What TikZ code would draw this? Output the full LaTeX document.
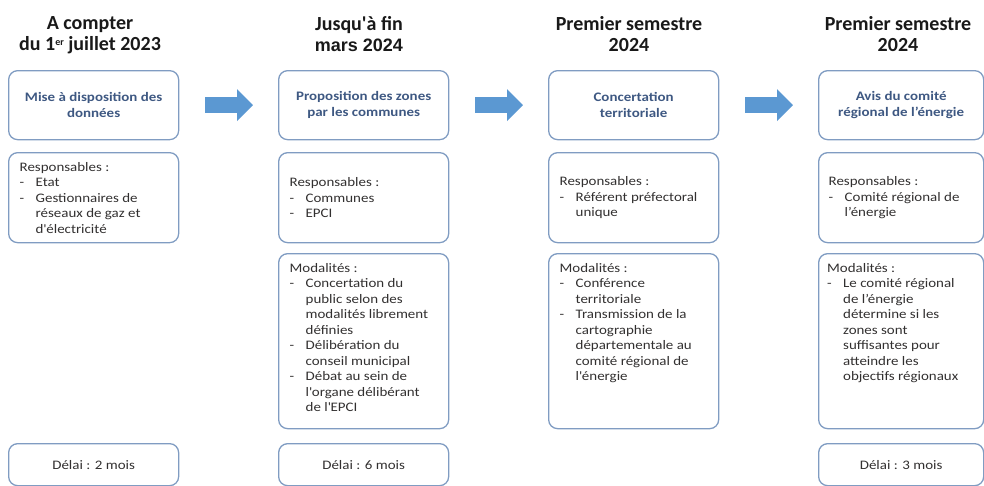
\documentclass[tikz,border=0pt]{standalone}
\usepackage{fontspec}
\setmainfont{Carlito}[FakeStretch=1.15]
\newfontfamily\titrefont{Carlito}
\newfontfamily\arialfont{Liberation Sans}
\usepackage{tikz}
\usetikzlibrary{arrows.meta}
\definecolor{bordure}{RGB}{128,156,194}
\definecolor{bleufleche}{RGB}{91,152,210}
\definecolor{titrebleu}{RGB}{62,88,130}
\definecolor{texte}{RGB}{50,48,48}
\tikzstyle{boite}=[draw=bordure,line width=1.3pt,rounded corners=9pt,minimum width=170pt,anchor=north west,inner sep=0pt,text=texte,font=\fontsize{13}{15.5}\selectfont]
\tikzstyle{etape}=[boite,minimum height=69pt,align=center,text=titrebleu,font=\bfseries\fontsize{13}{15.5}\selectfont]
\tikzstyle{liste}=[boite,minimum height=90pt]
\tikzstyle{modal}=[boite,minimum height=175pt]
\tikzstyle{delai}=[boite,minimum height=42pt]
\tikzstyle{entete}=[anchor=north,align=center,text=black!90,font=\titrefont\bfseries\fontsize{20}{20.5}\selectfont]
\tikzstyle{grossefleche}=[line width=16pt,draw=bleufleche,-{Triangle[length=16pt,width=31pt]}]
\newcommand{\puce}[1]{\par\hangindent=16pt\hangafter=1\noindent\makebox[16pt][l]{-}#1\par}
\newcommand{\bloc}[2][148pt]{\parbox{#1}{\raggedright #2}}
\newcommand{\enhaut}[1]{\parbox[c][156pt][t]{148pt}{\raggedright #1}}
\newcommand{\exposant}[1]{\raisebox{0.42ex}{\fontsize{10}{10}\selectfont #1}}

\begin{document}
\begin{tikzpicture}[x=1pt,y=-1pt]
  \useasboundingbox (0,0) rectangle (984,485);
  \node[entete] (t1) at (90,13) {A compter\\du 1\exposant{er} juillet 2023};
  \node[entete] (t2) at (359,13) {Jusqu\textquotesingle à fin\\{\arialfont\fontsize{18}{20.5}\selectfont mars 2024}};
  \node[entete] (t3) at (629,13) {Premier semestre\\2024};
  \node[entete] (t4) at (898,13) {Premier semestre\\2024};

  \node[etape] (mise) at (8,70) {Mise à disposition des\\données};
  \node[etape] (propo) at (278,70) {Proposition des zones\\par les communes};
  \node[etape] (concert) at (548,70) {Concertation\\territoriale};
  \node[etape,minimum width=165pt] (avis) at (818,70) {Avis du comité\\régional de l’énergie};
  \foreach \a/\b in {mise/propo,propo/concert,concert/avis}
    \draw[grossefleche] ([xshift=26pt]\a.east) -- ([xshift=-25pt]\b.west);

  \node[liste] (resp1) at (8,152) {\bloc{Responsables :\puce{Etat}\puce{Gestionnaires de\newline réseaux de gaz et\newline d\textquotesingle électricité}}};
  \node[liste] (resp2) at (278,152) {\bloc{Responsables :\puce{Communes}\puce{EPCI}}};
  \node[liste] (resp3) at (548,152) {\bloc{Responsables :\puce{Référent préfectoral\newline unique}}};
  \node[liste,minimum width=165pt] (resp4) at (818,152) {\bloc[145pt]{Responsables :\puce{Comité régional de\newline l’énergie}}};

  \node[modal] (modal2) at (278,253) {\enhaut{Modalités :\puce{Concertation du\newline public selon des\newline modalités librement\newline définies}\puce{Délibération du\newline conseil municipal}\puce{Débat au sein de\newline l\textquotesingle organe délibérant\newline de l\textquotesingle EPCI}}};
  \node[modal] (modal3) at (548,253) {\enhaut{Modalités :\puce{Conférence\newline territoriale}\puce{Transmission de la\newline cartographie\newline départementale au\newline comité régional de\newline l\textquotesingle énergie}}};
  \node[modal,minimum width=165pt] (modal4) at (818,253) {\enhaut{Modalités :\puce{Le comité régional\newline de l’énergie\newline détermine si les\newline zones sont\newline suffisantes pour\newline atteindre les\newline objectifs régionaux}}};

  \node[delai] (delai1) at (8,443) {Délai : 2 mois};
  \node[delai] (delai2) at (278,443) {Délai : 6 mois};
  \node[delai,minimum width=165pt] (delai4) at (818,443) {Délai : 3 mois};
\end{tikzpicture}
\end{document}
